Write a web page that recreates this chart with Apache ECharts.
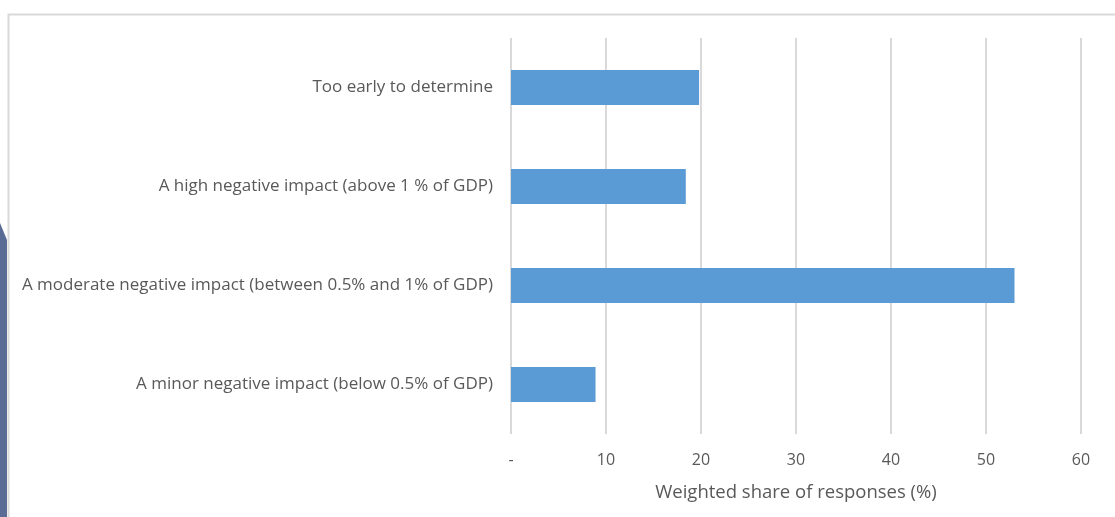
<!DOCTYPE html>
<html>
<head>
<meta charset="utf-8">
<script src="https://cdn.jsdelivr.net/npm/echarts@6/dist/echarts.min.js"></script>
<style>
  html, body { margin: 0; padding: 0; background: #ffffff; }
  #chart { width: 1115px; height: 517px; }
</style>
</head>
<body>
<div id="chart"></div>
<script>
// Expected economic impact categories, top to bottom
const categories = [
  'Too early to determine',
  'A high negative impact (above 1 % of GDP)',
  'A moderate negative impact (between 0.5% and 1% of GDP)',
  'A minor negative impact (below 0.5% of GDP)'
];
// Weighted share of responses (%)
const shares = [19.8, 18.4, 53.0, 8.9];
const xTicks = [0, 10, 20, 30, 40, 50, 60];
const xTitle = 'Weighted share of responses (%)';

const textColor = '#595959';
const fontFamily = '"Open Sans", sans-serif';

const chart = echarts.init(document.getElementById('chart'), null, { renderer: 'canvas' });
chart.setOption({
  backgroundColor: '#ffffff',
  animation: false,
  graphic: [
    {
      type: 'polygon',
      shape: { points: [[0, 223], [7, 240], [7, 517], [0, 517]] },
      style: { fill: '#5a6b96' },
      silent: true
    },
    {
      type: 'polyline',
      shape: { points: [[8.5, 517], [8.5, 14.5], [1115, 14.5]] },
      style: { stroke: '#d9d9d9', lineWidth: 2, fill: null },
      silent: true
    }
  ],
  grid: { left: 511, right: 34, top: 38, bottom: 83, containLabel: false },
  xAxis: {
    type: 'value',
    min: xTicks[0],
    max: xTicks[xTicks.length - 1],
    interval: 10,
    axisLine: { show: false },
    axisTick: { show: false },
    splitLine: { show: true, lineStyle: { color: '#d9d9d9', width: 2 } },
    axisLabel: {
      color: textColor,
      fontFamily: fontFamily,
      fontSize: 16,
      margin: 18,
      formatter: v => (v === 0 ? '-' : String(v))
    },
    name: xTitle,
    nameLocation: 'middle',
    nameGap: 49,
    nameTextStyle: { color: textColor, fontFamily: fontFamily, fontSize: 18.5 }
  },
  yAxis: {
    type: 'category',
    data: categories,
    inverse: true,
    axisLine: { show: false },
    axisTick: { show: false },
    splitLine: { show: false },
    axisLabel: {
      color: textColor,
      fontFamily: fontFamily,
      fontSize: 17,
      margin: 18,
      padding: [2, 0, 0, 0]
    }
  },
  series: [{
    type: 'bar',
    data: shares,
    barWidth: 35,
    itemStyle: { color: '#5b9bd5' }
  }]
});
</script>
</body>
</html>
